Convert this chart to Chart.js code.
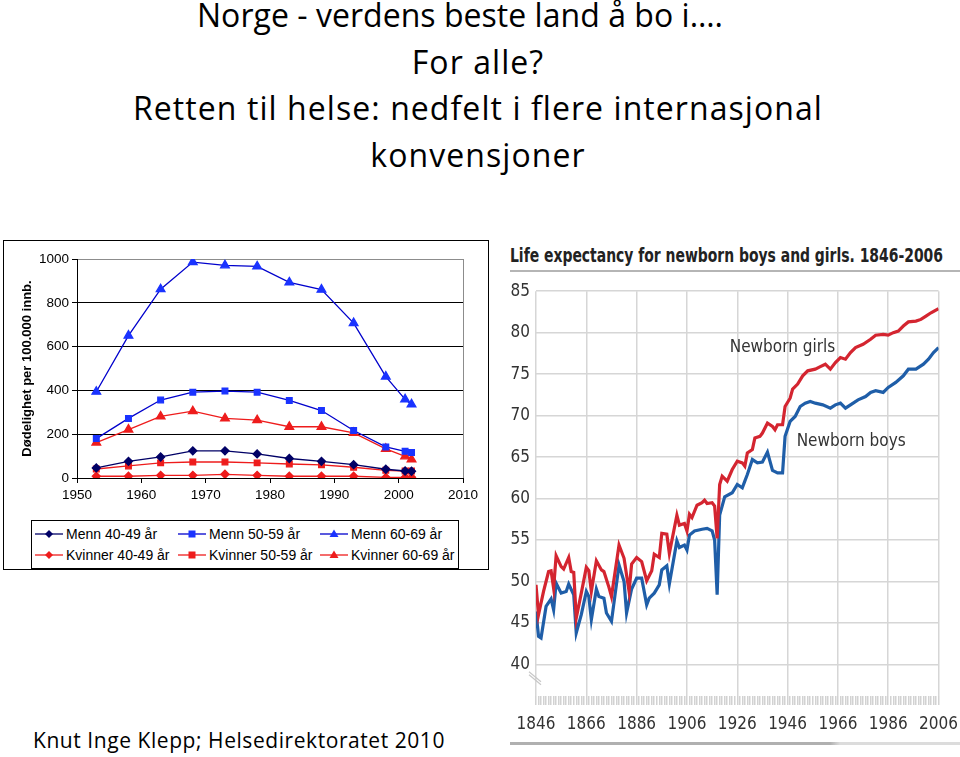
<!DOCTYPE html>
<html lang="no">
<head>
  <meta charset="UTF-8" />
  <title>Norge - verdens beste land å bo i</title>
  <script src="https://cdn.jsdelivr.net/npm/chart.js"></script>
  <style>
    body { margin: 0; background: #fff; width: 960px; height: 757px; position: relative; overflow: hidden; }
    .slide-title {
      position: absolute; left: 0; top: -8px; width: 956px;
      text-align: center; font-family: "Open Sans", Lato, sans-serif;
      font-size: 32px; line-height: 46.5px; color: #000; font-variant-ligatures: none;
    }
    .credit {
      position: absolute; left: 33px; top: 726px; white-space: nowrap;
      font-family: "Open Sans", Lato, sans-serif; font-size: 21px; color: #000;
    }
    .left-box {
      position: absolute; left: 3px; top: 240px; width: 484px; height: 328px;
      border: 1px solid #000; background: #fff;
    }
    #mortChart { position: absolute; left: 0; top: 0; }
    .legend {
      position: absolute; left: 27px; top: 279px; width: 426px; height: 45px;
      border: 1px solid #000; font-family: "Liberation Sans", Arial, sans-serif; font-size: 14px;
      display: grid; grid-template-columns: 143px 142px 141px; grid-auto-rows: 21px; padding-top: 2px;
    }
    .legend div { display: flex; align-items: center; white-space: nowrap; padding-left: 3px; }
    .legend svg { margin-right: 3px; }
    .right-title {
      position: absolute; left: 510px; top: 243px; width: 450px; height: 27px;
      border-bottom: 2px solid #b5b5b5;
    }
    .right-title span {
      display: inline-block; transform-origin: 0 0; white-space: nowrap;
      font-family: "DejaVu Sans Condensed", "DejaVu Sans", sans-serif; font-weight: bold;
      font-size: 20px; color: #222;
    }
    #lifeChart { position: absolute; left: 500px; top: 275px; }
    .bottom-rule { position: absolute; left: 510px; top: 742px; width: 450px; height: 3px;
      background: linear-gradient(to right, #b0b0b0 0, #b0b0b0 320px, #dcdcdc 330px); }
  </style>
</head>
<body>

  <div class="slide-title">
    <span id="line1">Norge - verdens beste land å bo i….</span><br>
    <span>For alle?</span><br>
    <span id="longLine">Retten til helse: nedfelt i flere internasjonal</span><br>
    <span>konvensjoner</span>
  </div>

  <!-- left chart: mortality per 100 000 -->
  <div class="left-box">
    <canvas id="mortChart" width="484" height="275"></canvas>
    <div class="legend" id="legend"></div>
  </div>

  <!-- right chart: life expectancy -->
  <div class="right-title"><span id="lifeTitle">Life expectancy for newborn boys and girls. 1846-2006</span></div>
  <canvas id="lifeChart" width="467" height="468"></canvas>
  <div class="bottom-rule"></div>

  <div class="credit" id="credit">Knut Inge Klepp; Helsedirektoratet 2010</div>

  <script>
    // ---- left chart data ----
    const mortYears = [1953, 1958, 1963, 1968, 1973, 1978, 1983, 1988, 1993, 1998, 2001, 2002];
    const menn4049 = [46, 76, 96, 124, 124, 110, 89, 76, 61, 40, 32, 31];
    const menn5059 = [180, 272, 356, 392, 397, 392, 354, 308, 217, 142, 122, 116];
    const menn6069 = [394, 650, 862, 986, 971, 966, 893, 860, 707, 463, 359, 336];
    const kvinner4049 = [8, 8, 12, 12, 17, 12, 8, 8, 8, 3, 3, 3];
    const kvinner5059 = [41, 55, 69, 73, 73, 69, 64, 60, 49, 35, 32, 32];
    const kvinner6069 = [162, 221, 281, 305, 272, 264, 234, 234, 206, 133, 99, 85];
    const mortLabels = ['Menn 40-49 år', 'Menn 50-59 år', 'Menn 60-69 år',
                        'Kvinner 40-49 år', 'Kvinner 50-59 år', 'Kvinner 60-69 år'];

    // ---- right chart data ----
    const girlsYears = [1846, 1847, 1849, 1851, 1852, 1853, 1854, 1856, 1857, 1859, 1860, 1861, 1862, 1864,
      1866, 1867, 1868, 1870, 1872, 1873, 1875, 1876, 1879, 1881, 1883, 1884, 1886, 1888, 1890, 1892,
      1893, 1895, 1896, 1898, 1899, 1902, 1903, 1905, 1906, 1907, 1908, 1910, 1912, 1913, 1914, 1916,
      1917, 1918, 1919, 1920, 1922, 1924, 1926, 1928, 1929, 1930, 1932, 1933, 1935, 1936, 1938, 1940,
      1941, 1942, 1944, 1945, 1947, 1948, 1950, 1952, 1954, 1957, 1959, 1961, 1963, 1965, 1967, 1969,
      1971, 1973, 1976, 1979, 1981, 1984, 1986, 1988, 1990, 1992, 1994, 1997, 1999, 2001, 2003, 2006];
    const girlsLife = [49.6, 46.0, 48.8, 51.2, 51.3, 49.2, 53.1, 51.8, 51.5, 52.9, 51.2, 51.1, 45.6, 48.6,
      51.7, 51.3, 48.8, 52.5, 51.4, 51.2, 49.3, 48.2, 54.4, 52.8, 48.8, 52.1, 52.9, 52.4, 50.1, 51.3,
      53.3, 52.9, 55.8, 55.7, 53.4, 58.0, 56.8, 57.0, 56.1, 58.1, 57.7, 59.2, 59.5, 59.8, 59.4, 59.5,
      59.1, 55.2, 61.7, 62.7, 62.1, 63.5, 64.5, 64.3, 63.9, 65.5, 65.9, 67.3, 67.5, 67.9, 69.1, 68.7,
      68.3, 68.9, 68.9, 71.1, 72.1, 73.2, 73.8, 74.8, 75.4, 75.6, 75.9, 76.2, 75.6, 76.4, 77.0, 76.8,
      77.6, 78.2, 78.6, 79.2, 79.7, 79.8, 79.7, 80.0, 80.2, 80.8, 81.3, 81.4, 81.6, 82.0, 82.4, 82.9];
    const boysYears = [1846, 1847, 1848, 1850, 1852, 1853, 1854, 1856, 1858, 1859, 1861, 1862, 1864, 1866,
      1867, 1868, 1870, 1871, 1873, 1874, 1876, 1879, 1881, 1882, 1884, 1886, 1888, 1890, 1891, 1893,
      1895, 1896, 1898, 1899, 1902, 1903, 1905, 1906, 1907, 1909, 1912, 1914, 1916, 1917, 1918, 1919,
      1921, 1924, 1926, 1928, 1929, 1930, 1932, 1934, 1936, 1938, 1940, 1942, 1944, 1945, 1947, 1949,
      1951, 1953, 1955, 1957, 1960, 1963, 1965, 1967, 1969, 1971, 1974, 1977, 1979, 1981, 1984, 1986,
      1989, 1992, 1994, 1997, 2000, 2002, 2004, 2006];
    const boysLife = [46.4, 43.4, 43.2, 47.0, 47.9, 46.6, 49.8, 48.6, 48.8, 49.7, 48.4, 43.8, 46.0, 48.8,
      48.2, 45.4, 49.1, 48.2, 48.0, 46.2, 45.2, 52.0, 50.0, 46.2, 49.1, 50.4, 50.4, 47.2, 48.0, 48.6,
      49.6, 51.4, 51.9, 49.7, 54.9, 54.1, 54.4, 53.8, 55.6, 56.1, 56.3, 56.4, 56.1, 55.0, 48.4, 58.0,
      60.2, 60.7, 61.7, 61.3, 62.1, 62.9, 64.7, 64.3, 64.4, 65.6, 63.4, 63.1, 63.1, 67.5, 69.3, 69.9,
      71.1, 71.5, 71.7, 71.5, 71.3, 70.9, 71.3, 71.5, 70.9, 71.3, 71.9, 72.3, 72.8, 73.0, 72.8, 73.4,
      74.0, 74.8, 75.6, 75.6, 76.2, 76.8, 77.6, 78.2];
    const lifeTicks = [40, 45, 50, 55, 60, 65, 70, 75, 80, 85];

    // stretch slide text to the widths it has in the original slide
    function fitSpacing(el, target) {
      const w = el.getBoundingClientRect().width;
      el.style.letterSpacing = ((target - w) / el.textContent.length) + 'px';
    }
    const longLine = document.getElementById('longLine');
    const spacing = (690 - longLine.getBoundingClientRect().width) / longLine.textContent.length;
    document.querySelector('.slide-title').style.letterSpacing = spacing + 'px';
    const line1 = document.getElementById('line1');
    line1.style.letterSpacing = '0px';
    fitSpacing(line1, 526);
    line1.style.marginRight = '36px';
    fitSpacing(document.getElementById('credit'), 412);
    const lifeTitle = document.getElementById('lifeTitle');
    lifeTitle.style.transform = 'scaleX(' + (433 / lifeTitle.getBoundingClientRect().width) + ')';

    const NAVY = '#000066', BLUE = '#0000cc', BLUE_MK = '#1a33ff', RED = '#ee1c1c';
    const styles = [
      { line: NAVY, mark: NAVY, shape: 'rectRot', r: 4 },
      { line: BLUE, mark: BLUE_MK, shape: 'rect', r: 4 },
      { line: BLUE, mark: BLUE_MK, shape: 'triangle', r: 5 },
      { line: RED, mark: RED, shape: 'rectRot', r: 4 },
      { line: RED, mark: RED, shape: 'rect', r: 4 },
      { line: RED, mark: RED, shape: 'triangle', r: 5 }
    ];
    const mortSeries = [menn4049, menn5059, menn6069, kvinner4049, kvinner5059, kvinner6069];

    const mortDatasets = mortSeries.map((vals, i) => ({
      label: mortLabels[i],
      data: mortYears.map((y, j) => ({ x: y, y: vals[j] })),
      borderColor: styles[i].line,
      backgroundColor: styles[i].mark,
      pointBorderColor: styles[i].mark,
      pointStyle: styles[i].shape,
      pointRadius: styles[i].r,
      borderWidth: 1.3,
      tension: 0
    }));

    const axisFont = { family: '"Liberation Sans", Arial, sans-serif', size: 13.5 };

    new Chart(document.getElementById('mortChart'), {
      type: 'line',
      data: { datasets: mortDatasets },
      options: {
        responsive: false,
        animation: false,
        layout: { padding: { left: 10, top: 18, right: 25, bottom: 0 } },
        plugins: { legend: { display: false }, tooltip: { enabled: false } },
        scales: {
          x: {
            type: 'linear', min: 1950, max: 2010,
            ticks: { stepSize: 10, color: '#000', font: axisFont, padding: 4, maxRotation: 0,
                     callback: v => String(v) },
            grid: {
              color: ctx => ctx.tick && ctx.tick.value === 2010 ? '#8c8c8c' : 'rgba(0,0,0,0)',
              tickColor: '#000', tickLength: 5
            },
            border: { color: '#000' },
            afterFit: s => { s.height = 38; }
          },
          y: {
            min: 0, max: 1000,
            ticks: { stepSize: 200, color: '#000', font: axisFont, padding: 3, callback: v => String(v) },
            grid: {
              color: ctx => ctx.tick && ctx.tick.value === 1000 ? '#8c8c8c' : '#000',
              tickColor: '#000', tickLength: 5
            },
            border: { color: '#000' },
            title: {
              display: true, text: 'Dødelighet per 100.000 innb.', color: '#000',
              font: { family: '"Liberation Sans", Arial, sans-serif', size: 13, weight: 'bold' },
              padding: { top: 6, bottom: 0 }
            },
            afterFit: s => { s.width = 63; }
          }
        }
      }
    });

    // HTML legend, three columns
    function markerSvg(st) {
      let mk;
      if (st.shape === 'rect') mk = '<rect x="10.5" y="3.5" width="7" height="7" fill="' + st.mark + '"/>';
      else if (st.shape === 'rectRot') mk = '<polygon points="14,3 18,7 14,11 10,7" fill="' + st.mark + '"/>';
      else mk = '<polygon points="14,2.5 18.5,10 9.5,10" fill="' + st.mark + '"/>';
      return '<svg width="28" height="14"><line x1="0" y1="7" x2="28" y2="7" stroke="' + st.line +
             '" stroke-width="1.3"/>' + mk + '</svg>';
    }
    const legendEl = document.getElementById('legend');
    mortLabels.forEach((lab, i) => {
      const d = document.createElement('div');
      d.innerHTML = markerSvg(styles[i]);
      d.appendChild(document.createTextNode(lab));
      legendEl.appendChild(d);
    });

    // ---- life expectancy chart ----
    const thinFont = { family: '"DejaVu Sans Condensed", "DejaVu Sans", sans-serif', size: 17 };

    const labelPlugin = {
      id: 'seriesLabels',
      afterDatasetsDraw(chart) {
        const { ctx, scales, chartArea } = chart;
        ctx.save();
        ctx.font = '17px "DejaVu Sans Condensed", "DejaVu Sans", sans-serif';
        ctx.fillStyle = '#333';
        ctx.textBaseline = 'middle';
        ctx.fillText('Newborn girls', scales.x.getPixelForValue(1923), scales.y.getPixelForValue(78.2));
        ctx.fillText('Newborn boys', scales.x.getPixelForValue(1949.6), scales.y.getPixelForValue(66.9));
        // axis break mark under the 40 label
        const bx = chartArea.left, by = scales.y.getPixelForValue(38.4);
        ctx.strokeStyle = '#c8c8c8';
        ctx.lineWidth = 1.2;
        [0, 3].forEach(d => {
          ctx.beginPath();
          ctx.moveTo(bx - 7, by - 6 + d);
          ctx.lineTo(bx + 5, by + 4 + d);
          ctx.stroke();
        });
        ctx.restore();
      }
    };

    new Chart(document.getElementById('lifeChart'), {
      type: 'line',
      data: {
        datasets: [
          {
            label: 'Newborn girls',
            data: girlsYears.map((y, i) => ({ x: y, y: girlsLife[i] })),
            borderColor: '#d42530', borderWidth: 3.2, pointRadius: 0, tension: 0
          },
          {
            label: 'Newborn boys',
            data: boysYears.map((y, i) => ({ x: y, y: boysLife[i] })),
            borderColor: '#1f5ea8', borderWidth: 3.2, pointRadius: 0, tension: 0
          }
        ]
      },
      options: {
        responsive: false,
        animation: false,
        layout: { padding: { left: 0, top: 4, right: 0, bottom: 0 } },
        plugins: { legend: { display: false }, tooltip: { enabled: false } },
        scales: {
          x: {
            type: 'linear', min: 1846, max: 2006,
            ticks: {
              stepSize: 1, autoSkip: false, maxRotation: 0, maxTicksLimit: 400,
              color: '#333', font: thinFont, padding: 9,
              callback: v => ((v - 1846) % 20 === 0 ? String(v) : '')
            },
            grid: {
              color: ctx => ctx.tick && (ctx.tick.value - 1846) % 20 === 0 ? '#d6d6d6' : 'rgba(0,0,0,0)',
              lineWidth: 1.5, tickColor: '#d2d2d2', tickLength: 9
            },
            border: { display: false },
            afterFit: s => { s.height = 47; }
          },
          y: {
            min: 36.2, max: 85,
            afterBuildTicks: s => { s.ticks = lifeTicks.map(v => ({ value: v })); },
            ticks: { color: '#333', font: thinFont, padding: 6 },
            grid: { color: '#d6d6d6', lineWidth: 1.5, drawTicks: false },
            border: { display: false },
            afterFit: s => { s.width = 36; }
          }
        }
      },
      plugins: [labelPlugin]
    });
  </script>

</body>
</html>
